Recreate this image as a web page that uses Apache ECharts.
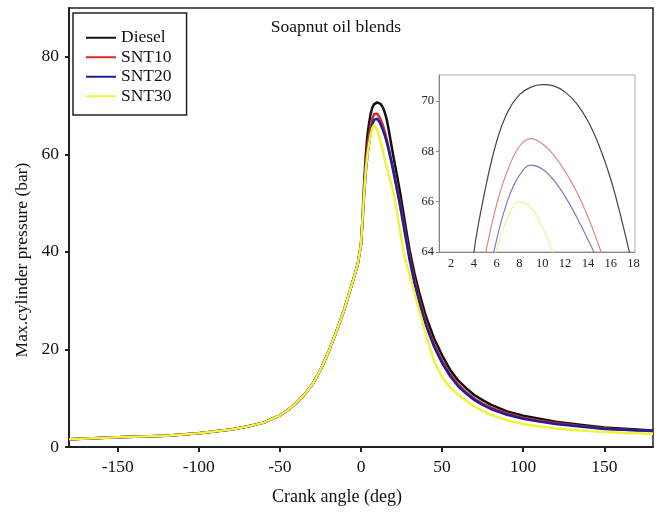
<!DOCTYPE html>
<html>
<head>
<meta charset="utf-8">
<script src="https://cdn.jsdelivr.net/npm/echarts@6/dist/echarts.min.js"></script>
<style>
  html, body { margin: 0; padding: 0; background: #fff; }
  #chart { width: 660px; height: 513px; }
</style>
</head>
<body>
<div id="chart"></div>
<script>
const seriesNames = ['Diesel', 'SNT10', 'SNT20', 'SNT30']

const angles = [-180, -150, -120, -100, -80, -70, -60, -50, -45, -40, -35, -30, -25, -20, -15, -10, -5, -2, 0,
  1, 2, 3, 4, 5, 6, 7, 8, 9, 10, 11, 12, 13, 14, 15, 16, 17, 18, 19, 20,
  22, 24, 26, 28, 30, 33, 36, 40, 45, 50, 55, 60, 65, 70, 75, 80, 90, 100, 110, 120, 135, 150, 165, 180]

const diesel = [1.6, 2.0, 2.3, 2.8, 3.6, 4.2, 5.0, 6.5, 7.6, 9.0, 10.7, 12.8, 15.8, 19.5, 23.8, 28.5, 34.0, 37.5, 41.5,
  47.5, 54.5, 60.0, 64.0, 66.5, 68.4, 69.6, 70.25, 70.55, 70.65, 70.6, 70.35, 69.9, 69.2, 68.2, 66.9, 65.2, 63.3, 61.4, 59.5,
  56.0, 52.4, 48.3, 44.2, 40.3, 35.5, 31.5, 26.8, 22.3, 18.8, 15.8, 13.6, 12.0, 10.6, 9.6, 8.7, 7.3, 6.4, 5.8, 5.2, 4.55, 4.0, 3.7, 3.4]

const snt10 = [1.6, 2.0, 2.3, 2.8, 3.6, 4.2, 5.0, 6.5, 7.6, 9.0, 10.7, 12.8, 15.8, 19.5, 23.8, 28.5, 34.0, 37.5, 41.5,
  47.0, 53.0, 58.0, 61.5, 63.9, 65.9, 67.3, 68.2, 68.5, 68.3, 67.85, 67.2, 66.4, 65.4, 64.2, 62.9, 61.4, 59.8, 58.3, 56.8,
  53.5, 50.1, 46.4, 42.6, 38.9, 34.1, 30.1, 25.6, 21.1, 17.7, 14.9, 12.8, 11.2, 9.9, 8.9, 8.1, 6.9, 6.0, 5.4, 4.9, 4.3, 3.8, 3.5, 3.3]

const snt20 = [1.6, 2.0, 2.3, 2.8, 3.6, 4.2, 5.0, 6.5, 7.6, 9.0, 10.7, 12.8, 15.8, 19.5, 23.8, 28.5, 34.0, 37.5, 41.5,
  46.5, 52.0, 56.5, 59.8, 62.3, 64.5, 66.1, 67.05, 67.45, 67.3, 66.85, 66.2, 65.4, 64.5, 63.5, 62.3, 61.0, 59.5, 58.0, 56.4,
  53.0, 49.6, 45.8, 42.0, 38.3, 33.5, 29.5, 25.0, 20.6, 17.2, 14.5, 12.4, 10.9, 9.6, 8.65, 7.8, 6.6, 5.8, 5.2, 4.7, 4.2, 3.7, 3.5, 3.3]

const snt30 = [1.6, 2.0, 2.3, 2.8, 3.6, 4.2, 5.0, 6.5, 7.6, 9.0, 10.7, 12.8, 15.8, 19.5, 23.8, 28.5, 34.0, 37.5, 41.5,
  47.0, 52.5, 57.0, 60.0, 62.3, 64.1, 65.4, 66.0, 65.75, 65.0, 63.9, 62.6, 61.3, 59.9, 58.5, 57.1, 55.8, 54.6, 53.4, 52.2,
  48.5, 44.6, 40.3, 37.6, 35.2, 31.5, 27.8, 23.2, 17.6, 14.3, 12.2, 10.7, 9.4, 8.3, 7.4, 6.6, 5.5, 4.7, 4.2, 3.8, 3.4, 3.05, 2.85, 2.7]

const xTicks = [-150, -100, -50, 0, 50, 100, 150]
const yTicks = [0, 20, 40, 60, 80]
const insetXTicks = [2, 4, 6, 8, 10, 12, 14, 16, 18]
const insetYTicks = [64, 66, 68, 70]

const allValues = [diesel, snt10, snt20, snt30]
const mainColors = ['#111111', '#d42a2a', '#1f1f9a', '#f2f23a']
const insetColors = ['#444444', '#d88a8a', '#7c7cc0', '#eef09a']

const serif = '"Liberation Serif", "DejaVu Serif", serif'

function pairs(values) {
  return angles.map((a, i) => [a, values[i]])
}

const chart = echarts.init(document.getElementById('chart'))

const mainSeries = seriesNames.map((name, i) => ({
  name: name,
  type: 'line',
  xAxisIndex: 0,
  yAxisIndex: 0,
  showSymbol: false,
  smooth: false,
  lineStyle: { width: 2.5, color: mainColors[i], join: 'round' },
  itemStyle: { color: mainColors[i] },
  data: pairs(allValues[i])
}))

const insetSeries = seriesNames.map((name, i) => ({
  name: name,
  type: 'line',
  xAxisIndex: 1,
  yAxisIndex: 1,
  showSymbol: false,
  smooth: 0.4,
  clip: true,
  z: 7,
  lineStyle: { width: 1.2, color: insetColors[i] },
  itemStyle: { color: insetColors[i] },
  data: pairs(allValues[i])
}))

const option = {
  animation: false,
  backgroundColor: '#fff',
  title: {
    text: 'Soapnut oil blends',
    left: 331,
    top: 13,
    textAlign: 'center',
    textStyle: { fontFamily: serif, fontSize: 17.5, fontWeight: 'normal', color: '#111' }
  },
  legend: {
    data: seriesNames,
    orient: 'vertical',
    left: 73,
    top: 13,
    icon: 'rect',
    itemWidth: 30,
    itemHeight: 2,
    itemGap: 0,
    padding: [15, 15, 9, 13],
    borderColor: '#222',
    borderWidth: 1.5,
    textStyle: { fontFamily: serif, fontSize: 17.5, lineHeight: 19.5, color: '#111' }
  },
  grid: [
    { left: 69, top: 8, width: 584, height: 439, show: true, borderColor: '#222', borderWidth: 1.5, backgroundColor: 'transparent' },
    { left: 439, top: 75, width: 196, height: 177, show: true, borderColor: '#aaa', borderWidth: 1, backgroundColor: '#fff', z: 5 }
  ],
  xAxis: [
    {
      type: 'value',
      gridIndex: 0,
      min: -180,
      max: 180,
      axisLine: { onZero: false, lineStyle: { color: '#222', width: 2 } },
      axisTick: { show: true, length: 5, customValues: xTicks, lineStyle: { color: '#222', width: 2 } },
      axisLabel: { customValues: xTicks, margin: 11, fontFamily: serif, fontSize: 17.5, color: '#111' },
      splitLine: { show: false }
    },
    {
      type: 'value',
      gridIndex: 1,
      min: 0.94,
      max: 18.13,
      z: 6,
      axisLine: { onZero: false, lineStyle: { color: '#888', width: 1 } },
      axisTick: { show: false },
      axisLabel: { customValues: insetXTicks, margin: 5, fontFamily: serif, fontSize: 12.5, color: '#222' },
      splitLine: { show: false }
    }
  ],
  yAxis: [
    {
      type: 'value',
      gridIndex: 0,
      min: 0,
      max: 90,
      axisLine: { onZero: false, lineStyle: { color: '#222', width: 2 } },
      axisTick: { show: true, length: 4, customValues: yTicks, lineStyle: { color: '#222', width: 2 } },
      axisLabel: { customValues: yTicks, margin: 10, fontFamily: serif, fontSize: 17.5, color: '#111' },
      splitLine: { show: false }
    },
    {
      type: 'value',
      gridIndex: 1,
      min: 64,
      max: 71.03,
      z: 6,
      axisLine: { onZero: false, lineStyle: { color: '#888', width: 1 } },
      axisTick: { show: true, length: 3, customValues: insetYTicks, lineStyle: { color: '#888' } },
      axisLabel: { customValues: insetYTicks, margin: 5, fontFamily: serif, fontSize: 12.5, color: '#222' },
      splitLine: { show: false }
    }
  ],
  graphic: [
    {
      type: 'text',
      x: 337,
      y: 497,
      style: { text: 'Crank angle (deg)', font: '18px ' + serif, fill: '#111', textAlign: 'center', textVerticalAlign: 'middle' }
    },
    {
      type: 'text',
      x: 22,
      y: 260,
      rotation: Math.PI / 2,
      style: { text: 'Max.cylinder pressure (bar)', font: '17.5px ' + serif, fill: '#111', textAlign: 'center', textVerticalAlign: 'middle' }
    }
  ],
  series: mainSeries.concat(insetSeries)
}

chart.setOption(option)
</script>
</body>
</html>
